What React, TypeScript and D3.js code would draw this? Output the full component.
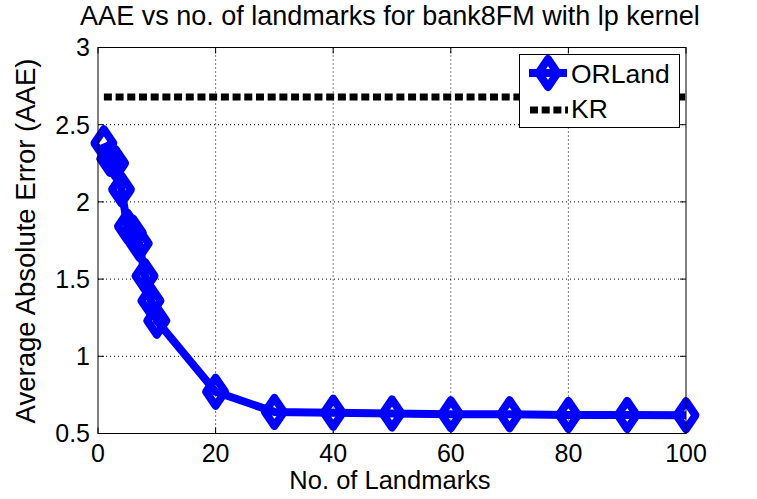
import { useEffect, useRef } from "react";
import * as d3 from "d3";

const landmarks = [1, 2, 3, 4, 5, 6, 7, 8, 9, 10, 20, 30, 40, 50, 60, 70, 80, 90, 100];
const orland = [2.38, 2.28, 2.25, 2.08, 1.84, 1.8, 1.73, 1.52, 1.36, 1.23, 0.77, 0.64, 0.635, 0.63, 0.625, 0.625, 0.62, 0.62, 0.618];
const krValue = 2.68;
const krRange = [1, 100];
const xTicks = [0, 20, 40, 60, 80, 100];
const yTicks = [0.5, 1, 1.5, 2, 2.5, 3];

const W = 757;
const H = 499;
const FONT = "'Liberation Sans', Arial, Helvetica, sans-serif";
const BLUE = "#0000ff";

const App = () => {
  const svgRef = useRef<SVGSVGElement>(null);

  useEffect(() => {
    if (!svgRef.current) return;
    const svg = d3.select(svgRef.current);
    svg.selectAll("*").remove();

    const left = 98;
    const right = 686;
    const top = 47.5;
    const bottom = 433.5;

    const x = d3.scaleLinear().domain([0, 100]).range([left, right]);
    const y = d3.scaleLinear().domain([0.5, 3]).range([bottom, top]);

    svg.append("rect").attr("width", W).attr("height", H).attr("fill", "#fff");

    // grid (dotted)
    const grid = svg.append("g").attr("stroke", "#000").attr("stroke-width", 1).attr("stroke-dasharray", "1 3");
    grid
      .selectAll("line.gx")
      .data(xTicks.slice(1, -1))
      .enter()
      .append("line")
      .attr("x1", (d) => x(d))
      .attr("x2", (d) => x(d))
      .attr("y1", top)
      .attr("y2", bottom);
    grid
      .selectAll("line.gy")
      .data(yTicks.slice(1, -1))
      .enter()
      .append("line")
      .attr("x1", left)
      .attr("x2", right)
      .attr("y1", (d) => y(d))
      .attr("y2", (d) => y(d));

    // ticks (inward, on all four sides)
    const tl = 6;
    const ticks = svg.append("g").attr("stroke", "#000").attr("stroke-width", 1);
    xTicks.forEach((t) => {
      ticks.append("line").attr("x1", x(t)).attr("x2", x(t)).attr("y1", bottom).attr("y2", bottom - tl);
      ticks.append("line").attr("x1", x(t)).attr("x2", x(t)).attr("y1", top).attr("y2", top + tl);
    });
    yTicks.forEach((t) => {
      ticks.append("line").attr("x1", left).attr("x2", left + tl).attr("y1", y(t)).attr("y2", y(t));
      ticks.append("line").attr("x1", right).attr("x2", right - tl).attr("y1", y(t)).attr("y2", y(t));
    });

    // tick labels
    svg
      .selectAll("text.xt")
      .data(xTicks)
      .enter()
      .append("text")
      .attr("x", (d) => x(d))
      .attr("y", 462)
      .attr("text-anchor", "middle")
      .attr("font-family", FONT)
      .attr("font-size", 25)
      .text((d) => String(d));
    svg
      .selectAll("text.yt")
      .data(yTicks)
      .enter()
      .append("text")
      .attr("x", 90)
      .attr("y", (d) => y(d) + 8.8)
      .attr("text-anchor", "end")
      .attr("font-family", FONT)
      .attr("font-size", 25)
      .text((d) => String(d));

    // KR baseline
    svg
      .append("line")
      .attr("x1", x(krRange[0]))
      .attr("x2", x(krRange[1]))
      .attr("y1", y(krValue))
      .attr("y2", y(krValue))
      .attr("stroke", "#000")
      .attr("stroke-width", 7)
      .attr("stroke-dasharray", "8 3.7");

    // ORLand series
    const pts = landmarks.map((l, i) => [l, orland[i]] as [number, number]);
    const line = d3
      .line<[number, number]>()
      .x((d) => x(d[0]))
      .y((d) => y(d[1]));
    svg
      .append("path")
      .attr("d", line(pts))
      .attr("fill", "none")
      .attr("stroke", BLUE)
      .attr("stroke-width", 8)
      .attr("stroke-linejoin", "round");

    const diamond = (cx: number, cy: number) =>
      `M${cx},${cy - 14}L${cx + 9.5},${cy}L${cx},${cy + 14}L${cx - 9.5},${cy}Z`;
    svg
      .selectAll("path.mk")
      .data(pts)
      .enter()
      .append("path")
      .attr("d", (d) => diamond(x(d[0]), y(d[1])))
      .attr("fill", "none")
      .attr("stroke", BLUE)
      .attr("stroke-width", 8)
      .attr("stroke-linejoin", "round");

    // axes box
    svg
      .append("rect")
      .attr("x", left)
      .attr("y", top)
      .attr("width", right - left)
      .attr("height", bottom - top)
      .attr("fill", "none")
      .attr("stroke", "#000")
      .attr("stroke-width", 1);

    // legend
    const lg = svg.append("g");
    lg.append("rect")
      .attr("x", 519.5)
      .attr("y", 54.5)
      .attr("width", 160)
      .attr("height", 73)
      .attr("fill", "#fff")
      .attr("stroke", "#000")
      .attr("stroke-width", 1);
    lg.append("line")
      .attr("x1", 529)
      .attr("x2", 567)
      .attr("y1", 73)
      .attr("y2", 73)
      .attr("stroke", BLUE)
      .attr("stroke-width", 8);
    lg.append("path")
      .attr("d", diamond(548, 73))
      .attr("fill", "none")
      .attr("stroke", BLUE)
      .attr("stroke-width", 8)
      .attr("stroke-linejoin", "round");
    lg.append("line")
      .attr("x1", 530)
      .attr("x2", 568)
      .attr("y1", 110)
      .attr("y2", 110)
      .attr("stroke", "#000")
      .attr("stroke-width", 7)
      .attr("stroke-dasharray", "8 3.7");
    lg.append("text")
      .attr("x", 571)
      .attr("y", 83)
      .attr("font-family", FONT)
      .attr("font-size", 26.5)
      .text("ORLand");
    lg.append("text")
      .attr("x", 571)
      .attr("y", 118)
      .attr("font-family", FONT)
      .attr("font-size", 26.5)
      .text("KR");

    // title and axis labels
    svg
      .append("text")
      .attr("x", 390)
      .attr("y", 25)
      .attr("text-anchor", "middle")
      .attr("font-family", FONT)
      .attr("font-size", 27)
      .text("AAE vs no. of landmarks for bank8FM with lp kernel");
    svg
      .append("text")
      .attr("x", 390)
      .attr("y", 489)
      .attr("text-anchor", "middle")
      .attr("font-family", FONT)
      .attr("font-size", 25.5)
      .text("No. of Landmarks");
    svg
      .append("text")
      .attr("transform", "translate(35,241) rotate(-90)")
      .attr("text-anchor", "middle")
      .attr("font-family", FONT)
      .attr("font-size", 27.5)
      .text("Average Absolute Error (AAE)");
  }, []);

  return (
    <div style={{ position: "absolute", left: 0, top: 0 }}>
      <svg ref={svgRef} width={W} height={H} />
    </div>
  );
};

export default App;
